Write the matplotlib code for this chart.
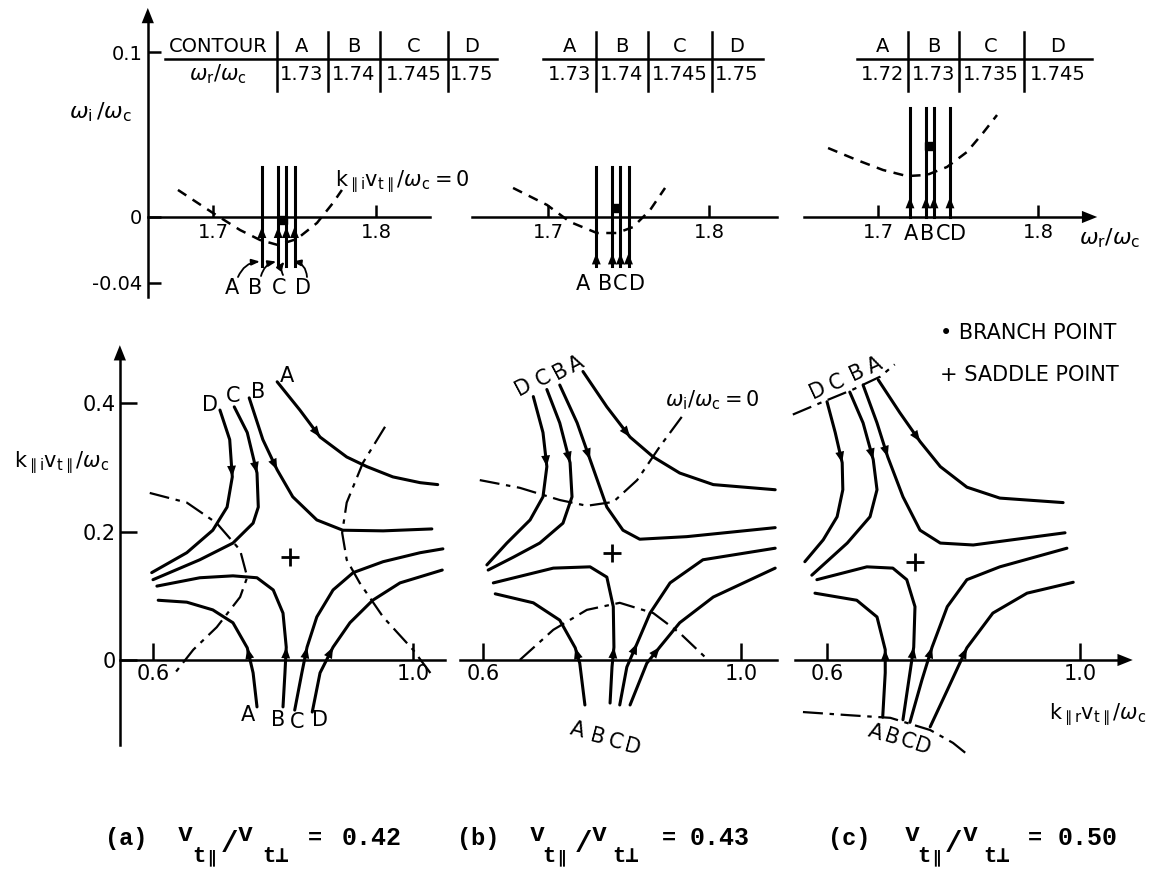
import matplotlib.pyplot as plt

plt.rcParams['font.family'] = ['DejaVu Sans']
plt.rcParams['mathtext.fontset'] = 'dejavusans'

# ---------------- data ----------------
contours = ['A', 'B', 'C', 'D']
panels = ['(a)', '(b)', '(c)']
ratio = ['0.42', '0.43', '0.50']          # v_t|| / v_t_perp

# top row: omega_r/omega_c of each contour
wr_a = [1.73, 1.74, 1.745, 1.75]
wr_b = [1.73, 1.74, 1.745, 1.75]
wr_c = [1.72, 1.73, 1.735, 1.745]
# vertical extent of the contours (omega_i/omega_c) and where the arrows sit
wi_span_a, wi_arrow_a = [-0.030, 0.030], -0.006
wi_span_b, wi_arrow_b = [-0.030, 0.030], -0.022
wi_span_c, wi_arrow_c = [0.0, 0.066], 0.012
branch_a = (1.743, -0.002)
branch_b = (1.742, 0.0055)
branch_c = (1.732, 0.043)
# k_||i = 0 curves (dashed)
kz_a_x = [1.6785, 1.700, 1.7166, 1.7288, 1.7399, 1.7515, 1.7638, 1.7736, 1.7791]
kz_a_y = [0.0164, 0.0024, -0.0079, -0.0139, -0.0170, -0.0133, -0.0036, 0.0085, 0.0164]
kz_b_x = [1.6783, 1.6994, 1.7137, 1.7304, 1.7429, 1.7528, 1.7634, 1.7727]
kz_b_y = [0.0176, 0.0073, -0.0030, -0.0097, -0.0097, -0.0061, 0.0042, 0.0176]
kz_c_x = [1.6688, 1.6869, 1.7031, 1.7181, 1.7306, 1.7431, 1.7556, 1.7656, 1.7744]
kz_c_y = [0.0418, 0.0345, 0.0285, 0.0248, 0.0255, 0.0303, 0.0394, 0.0509, 0.0618]

# bottom row: contours in the complex k_|| plane (x = k_||r, y = k_||i)
a_top = {'A': ([0.791, 0.826, 0.857, 0.898, 0.929, 0.969, 1.011, 1.038],
               [0.433, 0.389, 0.347, 0.316, 0.301, 0.285, 0.276, 0.273]),
         'B': ([0.748, 0.769, 0.791, 0.815, 0.852, 0.892, 0.954, 1.029],
               [0.408, 0.343, 0.296, 0.254, 0.218, 0.202, 0.201, 0.204]),
         'C': ([0.725, 0.745, 0.760, 0.762, 0.754, 0.723, 0.672, 0.600],
               [0.394, 0.354, 0.291, 0.238, 0.213, 0.182, 0.156, 0.125]),
         'D': ([0.703, 0.718, 0.722, 0.714, 0.692, 0.652, 0.598],
               [0.389, 0.343, 0.285, 0.238, 0.202, 0.167, 0.136])}
a_bot = {'A': ([0.760, 0.754, 0.745, 0.723, 0.692, 0.652, 0.608],
               [-0.073, -0.020, 0.019, 0.058, 0.078, 0.090, 0.093]),
         'B': ([0.800, 0.803, 0.805, 0.800, 0.785, 0.760, 0.723, 0.672, 0.606],
               [-0.073, -0.020, 0.020, 0.073, 0.109, 0.128, 0.131, 0.128, 0.115]),
         'C': ([0.818, 0.829, 0.837, 0.852, 0.877, 0.908, 0.954, 1.011, 1.046],
               [-0.078, -0.020, 0.020, 0.067, 0.109, 0.136, 0.153, 0.167, 0.173]),
         'D': ([0.845, 0.857, 0.877, 0.903, 0.938, 0.980, 1.045],
               [-0.081, -0.020, 0.020, 0.058, 0.093, 0.120, 0.140])}
a_zero = [([0.595, 0.652, 0.698, 0.734, 0.745, 0.734, 0.698, 0.662, 0.634],
           [0.260, 0.245, 0.213, 0.171, 0.129, 0.098, 0.051, 0.016, -0.020]),
          ([0.957, 0.923, 0.898, 0.891, 0.898, 0.918, 0.954, 1.000, 1.031],
           [0.363, 0.307, 0.245, 0.198, 0.156, 0.120, 0.067, 0.016, -0.026])]
a_saddle = (0.811, 0.160)

b_top = {'A': ([0.755, 0.792, 0.828, 0.864, 0.905, 0.957, 1.053],
               [0.449, 0.394, 0.347, 0.316, 0.291, 0.273, 0.265]),
         'B': ([0.719, 0.746, 0.766, 0.792, 0.817, 0.843, 0.916, 1.053],
               [0.428, 0.369, 0.312, 0.238, 0.202, 0.188, 0.192, 0.206]),
         'C': ([0.699, 0.719, 0.735, 0.738, 0.724, 0.688, 0.647, 0.608],
               [0.421, 0.369, 0.307, 0.254, 0.213, 0.182, 0.160, 0.140]),
         'D': ([0.678, 0.693, 0.699, 0.693, 0.673, 0.637, 0.606],
               [0.410, 0.354, 0.301, 0.254, 0.218, 0.182, 0.148])}
b_bot = {'A': ([0.758, 0.750, 0.743, 0.719, 0.678, 0.619],
               [-0.070, -0.005, 0.019, 0.062, 0.089, 0.103]),
         'B': ([0.797, 0.800, 0.803, 0.802, 0.792, 0.766, 0.709, 0.616],
               [-0.067, -0.011, 0.020, 0.083, 0.129, 0.145, 0.143, 0.120]),
         'C': ([0.812, 0.823, 0.839, 0.859, 0.890, 0.941, 1.053],
               [-0.070, -0.011, 0.026, 0.073, 0.120, 0.156, 0.174]),
         'D': ([0.828, 0.854, 0.874, 0.905, 0.957, 1.053],
               [-0.070, -0.005, 0.020, 0.058, 0.098, 0.143])}
b_zero = [([0.595, 0.657, 0.719, 0.761, 0.802, 0.839, 0.874, 0.913],
           [0.280, 0.268, 0.249, 0.240, 0.246, 0.280, 0.332, 0.385]),
          ([0.657, 0.709, 0.761, 0.812, 0.864, 0.905, 0.949],
           [0.000, 0.047, 0.078, 0.089, 0.073, 0.042, 0.000])]
b_saddle = (0.800, 0.167)

c_top = {'A': ([0.681, 0.715, 0.747, 0.779, 0.821, 0.873, 0.973],
               [0.436, 0.385, 0.340, 0.301, 0.269, 0.252, 0.245]),
         'B': ([0.657, 0.679, 0.696, 0.720, 0.747, 0.779, 0.831, 0.976],
               [0.428, 0.369, 0.316, 0.254, 0.202, 0.182, 0.179, 0.198]),
         'C': ([0.636, 0.657, 0.673, 0.679, 0.668, 0.632, 0.576],
               [0.417, 0.369, 0.312, 0.265, 0.223, 0.182, 0.132]),
         'D': ([0.600, 0.613, 0.624, 0.625, 0.616, 0.594, 0.565],
               [0.402, 0.354, 0.307, 0.265, 0.223, 0.187, 0.153])}
c_bot = {'A': ([0.688, 0.692, 0.692, 0.679, 0.647, 0.581],
               [-0.089, -0.020, 0.016, 0.067, 0.093, 0.104]),
         'B': ([0.720, 0.731, 0.737, 0.739, 0.726, 0.704, 0.663, 0.584],
               [-0.093, -0.020, 0.020, 0.083, 0.125, 0.143, 0.145, 0.125]),
         'C': ([0.731, 0.750, 0.766, 0.790, 0.821, 0.873, 0.979],
               [-0.097, -0.031, 0.020, 0.083, 0.125, 0.145, 0.174]),
         'D': ([0.763, 0.790, 0.821, 0.862, 0.916, 0.989],
               [-0.104, -0.047, 0.019, 0.073, 0.104, 0.121])}
c_zero = [([0.546, 0.594, 0.641, 0.684, 0.707],
           [0.382, 0.402, 0.421, 0.441, 0.460]),
          ([0.562, 0.636, 0.700, 0.763, 0.799, 0.823],
           [-0.081, -0.086, -0.090, -0.109, -0.129, -0.148])]
c_saddle = (0.739, 0.153)

# ---------------- figure ----------------
W, H = 1157, 872
fig = plt.figure(figsize=(W / 100, H / 100), dpi=100)
LW = 2.2


def make_ax(xref, x0, sx, y0, sy, xlim, ylim):
    # axes placed so that xref sits at pixel x0 (sx px per unit), y=0 at pixel y0
    left = x0 + (xlim[0] - xref) * sx
    right = x0 + (xlim[1] - xref) * sx
    top = y0 - ylim[1] * sy
    bottom = y0 - ylim[0] * sy
    ax = fig.add_axes([left / W, 1 - bottom / H, (right - left) / W, (bottom - top) / H])
    ax.set_xlim(xlim)
    ax.set_ylim(ylim)
    ax.patch.set_visible(False)
    for s in ax.spines.values():
        s.set_visible(False)
    ax.set_xticks([])
    ax.set_yticks([])
    return ax


def spine(ax, side, at, lo, hi):
    sp = ax.spines[side]
    sp.set_visible(True)
    sp.set_position(('data', at))
    sp.set_bounds(lo, hi)
    sp.set_linewidth(1.8)


def head(ax, tip, tail, ms=16):
    ax.annotate('', xy=tip, xytext=tail, annotation_clip=False,
                arrowprops=dict(arrowstyle='-|>,head_length=0.5,head_width=0.2',
                                color='k', lw=0, mutation_scale=ms,
                                shrinkA=0, shrinkB=0))


# ---- top row
top_specs = [(213, 1630, wr_a, wi_span_a, wi_arrow_a, branch_a, kz_a_x, kz_a_y, (1.660, 1.833)),
             (548, 1610, wr_b, wi_span_b, wi_arrow_b, branch_b, kz_b_x, kz_b_y, (1.653, 1.842)),
             (878, 1600, wr_c, wi_span_c, wi_arrow_c, branch_c, kz_c_x, kz_c_y, (1.654, 1.831))]
top_axes = []
for i, (x0, sx, wr, span, ya, bp, kx, ky, xb) in enumerate(top_specs):
    ax = make_ax(1.7, x0, sx, 217, 1650, (1.64, 1.86), (-0.055, 0.13))
    top_axes.append(ax)
    spine(ax, 'bottom', 0, xb[0], xb[1])
    ax.set_xticks([1.7, 1.8], ['1.7', '1.8'])
    if i == 0:
        spine(ax, 'left', xb[0], -0.0485, 0.122)
        ax.set_yticks([-0.04, 0, 0.1], ['-0.04', '0', '0.1'])
        head(ax, (xb[0], 0.1267), (xb[0], 0.11), ms=22)
    if i == 2:
        head(ax, (1.837, 0), (1.82, 0), ms=22)
    ax.tick_params(direction='in', length=9, width=1.8, labelsize=14, pad=4)
    for w in wr:
        ax.plot([w, w], span, color='k', lw=LW)
        head(ax, (w, ya), (w, ya - 0.004))
    ax.plot(kx, ky, color='k', lw=1.8, ls=(0, (4, 3)))
    ax.plot(*bp, marker='s', color='k', ms=6)

# ---- bottom row
bot_specs = [(153, 650, a_top, a_bot, a_zero, a_saddle, (0.549, 1.049)),
             (483, 645, b_top, b_bot, b_zero, b_saddle, (0.564, 1.056)),
             (827, 633, c_top, c_bot, c_zero, c_saddle, (0.549, 1.072))]
for i, (x0, sx, ctop, cbot, zero, sad, xb) in enumerate(bot_specs):
    ax = make_ax(0.6, x0, sx, 660, 642.5, (0.5, 1.1), (-0.17, 0.5))
    spine(ax, 'bottom', 0, xb[0], xb[1])
    ax.set_xticks([0.6, 1.0], ['0.6', '1.0'])
    if i == 0:
        spine(ax, 'left', xb[0], -0.132, 0.48)
        ax.set_yticks([0, 0.2, 0.4], ['0', '0.2', '0.4'])
        head(ax, (xb[0], 0.49), (xb[0], 0.46), ms=22)
    if i == 2:
        head(ax, (1.083, 0), (1.06, 0), ms=22)
    ax.tick_params(direction='in', length=12, width=1.8, labelsize=15, pad=3)
    for group in (ctop, cbot):
        for name in contours:
            xs, ys = group[name]
            ax.plot(xs, ys, color='k', lw=LW, solid_joinstyle='round',
                    solid_capstyle='round')
            head(ax, (xs[2], ys[2]), (xs[1], ys[1]))
    for xs, ys in zero:
        ax.plot(xs, ys, color='k', lw=1.6, ls=(0, (9, 3, 2, 3)))
    ax.plot(*sad, marker='+', color='k', ms=13, mew=2)

# ---- text overlay in pixel coordinates
ov = fig.add_axes([0, 0, 1, 1])
ov.set_xlim(0, W)
ov.set_ylim(H, 0)
ov.axis('off')

# tables of omega_r/omega_c
tables = [((165, 497), [277, 328, 380, 448], [302, 354, 414, 472], wr_a),
          ((543, 763), [596, 648, 712], [570, 622, 680, 737], wr_b),
          ((857, 1092), [908, 959, 1024], [883, 934, 991, 1058], wr_c)]
for line, seps, cols, wr in tables:
    ov.plot(line, [59, 59], color='k', lw=1.8)
    for s in seps:
        ov.plot([s, s], [32, 91], color='k', lw=1.8)
    for c, name, w in zip(cols, contours, wr):
        ov.text(c, 47, name, ha='center', va='center', fontsize=14)
        ov.text(c, 74, f'{w:g}', ha='center', va='center', fontsize=14)
ov.text(218, 46, 'CONTOUR', ha='center', va='center', fontsize=14)
ov.text(218, 74, r'$\omega_{\mathrm{r}}/\omega_{\mathrm{c}}$', ha='center', va='center', fontsize=15)

# axis labels
ov.text(100, 112, r'$\omega_{\mathrm{i}}\,/\omega_{\mathrm{c}}$', ha='center', va='center', fontsize=16)
ov.text(1110, 238, r'$\omega_{\mathrm{r}}/\omega_{\mathrm{c}}$', ha='center', va='center', fontsize=16)
ov.text(62, 463, r'$\mathrm{k}_{\parallel\mathrm{i}}\mathrm{v}_{\mathrm{t}\parallel}/\omega_{\mathrm{c}}$',
        ha='center', va='center', fontsize=15)
ov.text(1098, 715, r'$\mathrm{k}_{\parallel\mathrm{r}}\mathrm{v}_{\mathrm{t}\parallel}/\omega_{\mathrm{c}}$',
        ha='center', va='center', fontsize=15)
ov.text(335, 182, r'$\mathrm{k}_{\parallel\mathrm{i}}\mathrm{v}_{\mathrm{t}\parallel}/\omega_{\mathrm{c}}=0$',
        ha='left', va='center', fontsize=15)
ov.text(665, 400, r'$\omega_{\mathrm{i}}/\omega_{\mathrm{c}}=0$', ha='left', va='center', fontsize=15)
ov.text(940, 333, '• BRANCH POINT', ha='left', va='center', fontsize=15)
ov.text(940, 375, '+ SADDLE POINT', ha='left', va='center', fontsize=15)

# contour letters, top row
for name, x in zip(contours, [232, 255, 279, 303]):
    ov.text(x, 288, name, ha='center', va='center', fontsize=15)
for name, x in zip(contours, [583, 605, 620, 637]):
    ov.text(x, 284, name, ha='center', va='center', fontsize=15)
for name, x in zip(contours, [911, 927, 943, 958]):
    ov.text(x, 234, name, ha='center', va='center', fontsize=15)
# pointers from the letters of panel (a) to the contour lines
for (tx, ty), w, rad in zip([(238, 277), (261, 276), (283, 275), (307, 277)], wr_a,
                            [-0.3, -0.3, -0.3, 0.4]):
    top_axes[0].annotate('', xy=(w - 0.0012, -0.027), xytext=(tx, ty), textcoords=ov.transData,
                         arrowprops=dict(arrowstyle='-|>,head_length=0.4,head_width=0.15',
                                         color='k', lw=1.3, mutation_scale=12,
                                         connectionstyle=f'arc3,rad={rad}',
                                         shrinkA=0, shrinkB=0))

# contour letters, bottom row
letters = [([(210, 405), (233, 396), (258, 392), (287, 376)], 0,
            [(248, 715), (278, 720), (297, 722), (320, 720)], 0),
           ([(523, 387), (543, 378), (560, 371), (576, 364)], 28,
            [(577, 730), (597, 737), (615, 742), (632, 747)], -15),
           ([(818, 390), (837, 382), (857, 373), (875, 366)], 25,
            [(875, 732), (892, 737), (908, 742), (922, 747)], -18)]
for tops, rt, bots, rb in letters:
    for name, (x, y) in zip(contours[::-1], tops):
        ov.text(x, y, name, ha='center', va='center', fontsize=15, rotation=rt)
    for name, (x, y) in zip(contours, bots):
        ov.text(x, y, name, ha='center', va='center', fontsize=15, rotation=rb)

# captions (typewriter)
mono = ['Liberation Mono', 'DejaVu Sans Mono', 'DejaVu Sans']
cap_pos = [[105, 178, 192, 223, 238, 262, 308, 342],
           [457, 530, 542, 577, 592, 612, 662, 690],
           [828, 905, 917, 947, 963, 983, 1028, 1058]]
for lab, val, p in zip(panels, ratio, cap_pos):
    ov.text(p[0], 845, lab, family=mono, fontsize=17, weight='bold', va='baseline')
    ov.text(p[1], 841, 'v', family=mono, fontsize=18, weight='bold', va='baseline')
    ov.text(p[2], 862, 't', family=mono, fontsize=16, weight='bold', va='baseline')
    ov.text(p[2] + 15, 862, '\u2225', family=['DejaVu Sans'], fontsize=12, weight='bold',
            va='baseline')
    ov.text(p[3] - 2, 852, '/', family=mono, fontsize=21, weight='bold', va='baseline')
    ov.text(p[4], 841, 'v', family=mono, fontsize=18, weight='bold', va='baseline')
    ov.text(p[5], 862, 't\u22a5', family=mono, fontsize=16, weight='bold', va='baseline')
    ov.text(p[6], 845, '=', family=mono, fontsize=17, weight='bold', va='baseline')
    ov.text(p[7], 845, val, family=mono, fontsize=18, weight='bold', va='baseline')

fig.savefig('out.png', dpi=100)
